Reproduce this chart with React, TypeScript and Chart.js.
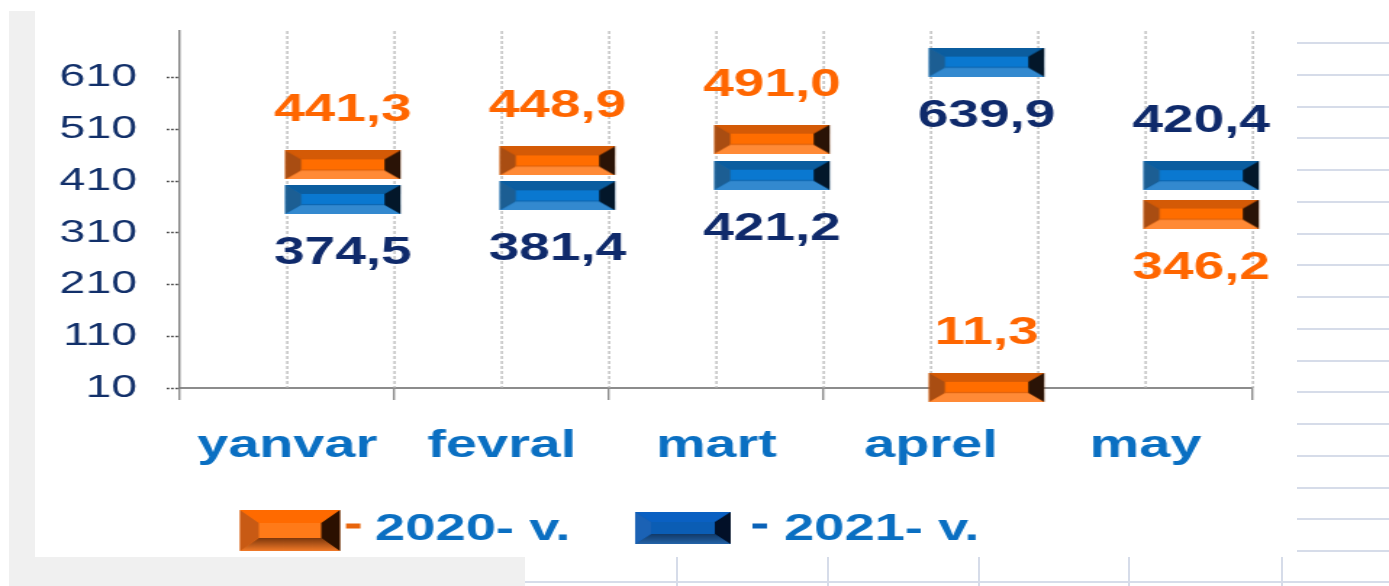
import React, { useEffect, useRef } from 'react';
import { Chart, registerables } from 'chart.js';

Chart.register(...registerables);

// ---------------- data ----------------
const categories = ['yanvar', 'fevral', 'mart', 'aprel', 'may'];
const seriesLabels = ['2020- v.', '2021- v.'];
const values2020 = [441.3, 448.9, 491.0, 11.3, 346.2];
const values2021 = [374.5, 381.4, 421.2, 639.9, 420.4];
const labelSide2020 = ['above', 'above', 'above', 'above', 'below'];
const labelSide2021 = ['below', 'below', 'below', 'below', 'above'];
const yTicks = [10, 110, 210, 310, 410, 510, 610];
const yMin = 10;
const yMax = 700;

// ---------------- style ----------------
const PAGE_W = 1389;
const PAGE_H = 586;
const LOGICAL_W = 958; // the picture is horizontally stretched
const FONT = '"Liberation Sans", Arial, sans-serif';

type Pal = { top: string; mid: string; bottom: string; bottom2?: string; left: string; right: string; line?: string };

const orangeBar: Pal = { top: '#d45a06', mid: '#ff6d00', bottom: '#ff8a36', left: '#a94d12', right: '#2a1306', line: '#e0620a' };
const blueBar: Pal = { top: '#0b5d9f', mid: '#0a78d0', bottom: '#3389cf', left: '#1c5e93', right: '#03172a', line: '#0c67b2' };
const orangeLegend: Pal = { top: '#ff6a00', mid: '#ff7a18', bottom: '#7d370c', bottom2: '#f27a28', left: '#c85a14', right: '#2b1000' };
const blueLegend: Pal = { top: '#0a60c2', mid: '#0b5db4', bottom: '#123a68', bottom2: '#2463a8', left: '#1b62b5', right: '#021028' };

const MARKER = { imgW: 160, h: 29, barX: 78.6, barW: 79.5, bx: 11, by: 9 };
const LABEL_GAP = 54;

function drawBevel(ctx: CanvasRenderingContext2D, x: number, y: number, w: number, h: number, bx: number, by: number, p: Pal) {
  ctx.save();
  ctx.fillStyle = p.mid;
  ctx.fillRect(x, y, w, h);
  const poly = (pts: number[][], fill: string | CanvasGradient) => {
    ctx.beginPath();
    ctx.moveTo(pts[0][0], pts[0][1]);
    for (let i = 1; i < pts.length; i++) ctx.lineTo(pts[i][0], pts[i][1]);
    ctx.closePath();
    ctx.fillStyle = fill;
    ctx.fill();
  };
  poly([[x, y], [x + w, y], [x + w - bx, y + by], [x + bx, y + by]], p.top);
  let bottomFill: string | CanvasGradient = p.bottom;
  if (p.bottom2) {
    const g = ctx.createLinearGradient(0, y + h - by, 0, y + h);
    g.addColorStop(0, p.bottom);
    g.addColorStop(1, p.bottom2);
    bottomFill = g;
  }
  poly([[x, y + h], [x + w, y + h], [x + w - bx, y + h - by], [x + bx, y + h - by]], bottomFill);
  poly([[x, y], [x + bx, y + by], [x + bx, y + h - by], [x, y + h]], p.left);
  poly([[x + w, y], [x + w - bx, y + by], [x + w - bx, y + h - by], [x + w, y + h]], p.right);
  if (p.line) {
    ctx.fillStyle = p.line;
    ctx.fillRect(x + bx, y + h - by - 1, w - 2 * bx, 1.2);
  }
  ctx.restore();
}

function makeMarker(p: Pal): HTMLCanvasElement {
  const c = document.createElement('canvas');
  c.width = MARKER.imgW;
  c.height = MARKER.h;
  const ctx = c.getContext('2d')!;
  drawBevel(ctx, MARKER.barX, 0, MARKER.barW, MARKER.h, MARKER.bx, MARKER.by, p);
  return c;
}

const fmt = (v: number) => v.toFixed(1).replace('.', ',');

const overlayPlugin = {
  id: 'overlay',
  beforeDatasetsDraw(chart: any) {
    const { ctx, chartArea } = chart;
    const xs = chart.scales.x;
    const cw = xs.getPixelForValue(1) - xs.getPixelForValue(0);
    ctx.save();
    ctx.strokeStyle = '#b3b3b3';
    ctx.lineWidth = 1.2;
    ctx.setLineDash([3, 2]);
    categories.forEach((_, i) => {
      const c = xs.getPixelForValue(i);
      [c, c + cw / 2].forEach((x) => {
        ctx.beginPath();
        ctx.moveTo(x, chartArea.top);
        ctx.lineTo(x, chartArea.bottom);
        ctx.stroke();
      });
    });
    ctx.restore();
  },
  afterDatasetsDraw(chart: any) {
    const { ctx } = chart;
    const sides = [labelSide2020, labelSide2021];
    const colors = ['#ff6600', '#0f2a6b'];
    ctx.save();
    ctx.font = `bold 38px ${FONT}`;
    ctx.textAlign = 'center';
    ctx.textBaseline = 'middle';
    chart.data.datasets.forEach((ds: any, di: number) => {
      const meta = chart.getDatasetMeta(di);
      meta.data.forEach((pt: any, i: number) => {
        const cx = pt.x - MARKER.imgW / 2 + MARKER.barX + MARKER.barW / 2;
        const cy = sides[di][i] === 'above' ? pt.y - LABEL_GAP : pt.y + LABEL_GAP;
        ctx.fillStyle = colors[di];
        ctx.fillText(fmt(ds.data[i]), cx, cy);
      });
    });
    ctx.restore();
  },
  afterDraw(chart: any) {
    const { ctx } = chart;
    ctx.save();
    drawBevel(ctx, 165.5, 510, 69, 41, 13, 13, orangeLegend);
    drawBevel(ctx, 438, 512, 66, 32, 11, 10, blueLegend);
    ctx.fillStyle = '#e8650c';
    ctx.fillRect(238.6, 523.5, 10, 5);
    ctx.fillStyle = '#0a62b8';
    ctx.fillRect(519, 523.5, 10, 5);
    ctx.font = `bold 37.5px ${FONT}`;
    ctx.fillStyle = '#0a6fc2';
    ctx.textAlign = 'left';
    ctx.textBaseline = 'alphabetic';
    ctx.fillText(seriesLabels[0], 258.6, 540);
    ctx.fillText(seriesLabels[1], 540.7, 540);
    ctx.restore();
  },
};

export default function App() {
  const ref = useRef<HTMLCanvasElement>(null);

  useEffect(() => {
    const canvas = ref.current!;
    const img2020 = makeMarker(orangeBar);
    const img2021 = makeMarker(blueBar);
    const chart = new Chart(canvas, {
      type: 'line',
      data: {
        labels: categories,
        datasets: [
          {
            label: seriesLabels[0],
            data: values2020,
            showLine: false,
            pointStyle: img2020 as any,
            pointRadius: 1,
            pointHoverRadius: 1,
            borderColor: '#ff6d00',
            backgroundColor: '#ff6d00',
            clip: false as any,
          },
          {
            label: seriesLabels[1],
            data: values2021,
            showLine: false,
            pointStyle: img2021 as any,
            pointRadius: 1,
            pointHoverRadius: 1,
            borderColor: '#0a78d0',
            backgroundColor: '#0a78d0',
            clip: false as any,
          },
        ],
      },
      options: {
        responsive: false,
        devicePixelRatio: 1,
        animation: false,
        events: [],
        layout: { padding: { top: 31, right: 93.9, left: 0, bottom: 0 } },
        plugins: { legend: { display: false }, tooltip: { enabled: false } },
        scales: {
          x: {
            type: 'category',
            offset: true,
            afterFit: (s: any) => { s.height = 198; },
            grid: { display: true, drawOnChartArea: false, offset: true, tickLength: 12, color: '#8c8c8c', lineWidth: 1.4 },
            border: { display: true, color: '#8c8c8c', width: 2 },
            ticks: { color: '#0a6fc2', font: { family: FONT, size: 38.5, weight: 'bold' }, padding: 23, maxRotation: 0, autoSkip: false },
          },
          y: {
            type: 'linear',
            min: yMin,
            max: yMax,
            afterBuildTicks: (s: any) => { s.ticks = yTicks.map((v) => ({ value: v })); },
            afterFit: (s: any) => { s.width = 124.1; s.paddingTop = 0; s.paddingBottom = 0; },
            grid: { display: true, drawOnChartArea: false, drawTicks: true, tickLength: 9, tickColor: '#333333', tickWidth: 1.6, tickBorderDash: [1.6, 1.4] } as any,
            border: { display: true, color: '#7f7f7f', width: 1.4 },
            ticks: { color: '#12306a', font: { family: FONT, size: 32 }, padding: 20.6, callback: (v: any) => String(v) },
          },
        },
      },
      plugins: [overlayPlugin],
    });
    return () => chart.destroy();
  }, []);

  const hLines = Array.from({ length: 17 }, (_, k) => 42 + k * 31.75);
  const vLines = [676, 827, 978, 1128, 1281];
  const lineColor = '#d6dce9';

  return (
    <div style={{ position: 'fixed', left: 0, top: 0, width: PAGE_W, height: PAGE_H, background: '#ffffff', overflow: 'hidden' }}>
      <div style={{ position: 'absolute', left: 9, top: 11, width: 26, height: PAGE_H - 11, background: '#f0f0f0' }} />
      <div style={{ position: 'absolute', left: 9, top: 557, width: 516, height: PAGE_H - 557, background: '#f0f0f0' }} />
      {hLines.map((y, i) => (
        <div key={'h' + i} style={{ position: 'absolute', left: 1297, top: Math.round(y), width: PAGE_W - 1297, height: 2, background: lineColor }} />
      ))}
      {vLines.map((x, i) => (
        <div key={'v' + i} style={{ position: 'absolute', left: x, top: 557, width: 2, height: PAGE_H - 557, background: lineColor }} />
      ))}
      <div style={{ position: 'absolute', left: 525, top: 581, width: PAGE_W - 525, height: 2, background: lineColor }} />
      <canvas
        ref={ref}
        width={LOGICAL_W}
        height={PAGE_H}
        style={{ position: 'absolute', left: 0, top: 0, width: PAGE_W + 'px', height: PAGE_H + 'px' }}
      />
    </div>
  );
}
